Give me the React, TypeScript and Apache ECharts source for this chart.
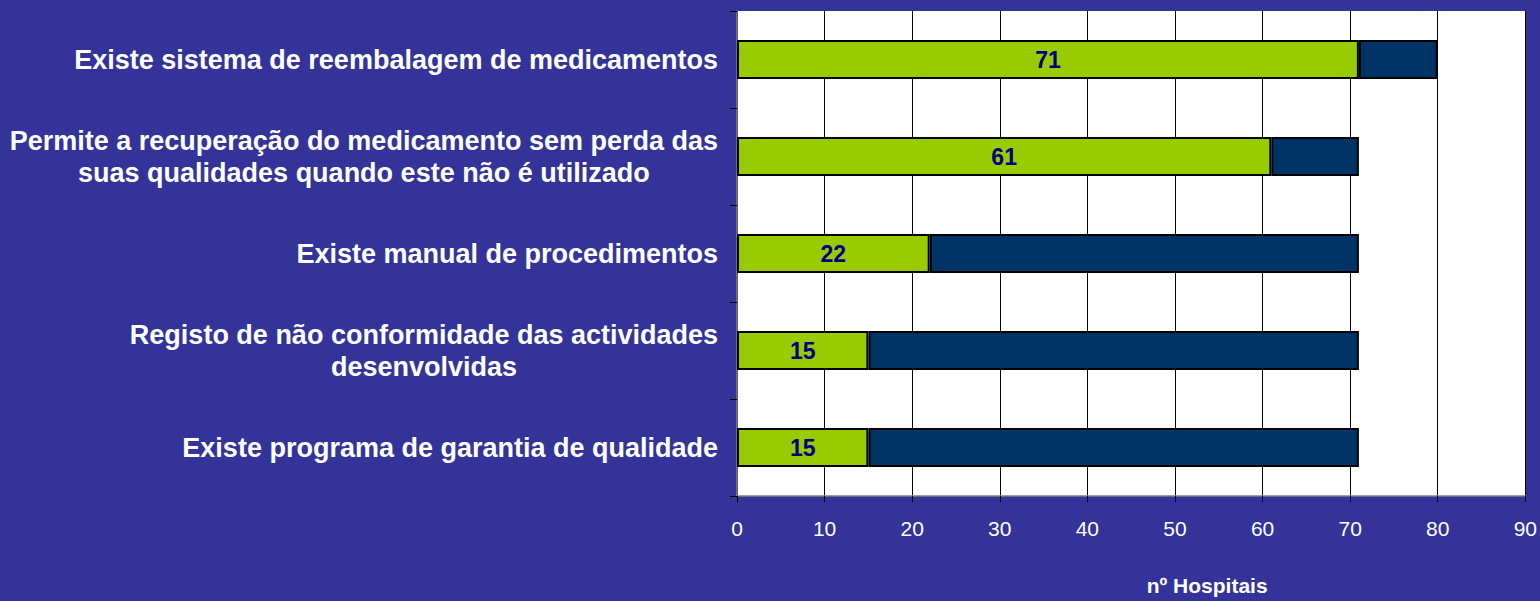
import React, { useEffect, useRef } from "react";
import * as echarts from "echarts";

const categories: string[] = [
  "Existe sistema de reembalagem de medicamentos",
  "Permite a recuperação do medicamento sem perda das\nsuas qualidades quando este não é utilizado",
  "Existe manual de procedimentos",
  "Registo de não conformidade das actividades\ndesenvolvidas",
  "Existe programa de garantia de qualidade",
];
const simValues: number[] = [71, 61, 22, 15, 15];
const naoValues: number[] = [9, 10, 49, 56, 56];
const axisTitle = "nº Hospitais";

export default function App() {
  const ref = useRef<HTMLDivElement>(null);
  useEffect(() => {
    if (!ref.current) return;
    const chart = echarts.init(ref.current, null, { renderer: "svg" });
    chart.setOption({
      animation: false,
      backgroundColor: "#333399",
      textStyle: { fontFamily: "Liberation Sans, Arial, sans-serif" },
      grid: {
        left: 737,
        right: 14,
        top: 11,
        bottom: 104,
        show: true,
        backgroundColor: "#ffffff",
        borderWidth: 0,
      },
      xAxis: {
        type: "value",
        min: 0,
        max: 90,
        interval: 10,
        name: axisTitle,
        nameLocation: "middle",
        nameGap: 79,
        nameTextStyle: {
          color: "#ffffff",
          fontWeight: "bold",
          fontSize: 21,
          padding: [0, 0, 0, 152],
        },
        axisLine: { show: true, lineStyle: { color: "#808080", width: 1.5 } },
        axisTick: { show: true, length: 6, lineStyle: { color: "#000000" } },
        axisLabel: { color: "#ffffff", fontSize: 21, margin: 22 },
        splitLine: { show: true, lineStyle: { color: "#000000", width: 1 } },
      },
      yAxis: {
        type: "category",
        data: categories,
        inverse: true,
        axisLine: { show: true, lineStyle: { color: "#808080", width: 1.5 } },
        axisTick: { show: true, length: 7, lineStyle: { color: "#000000" } },
        axisLabel: {
          margin: 19,
          formatter: (v: string) =>
            v
              .split("\n")
              .map((l) => "{c|" + l + "}")
              .join("\n"),
          rich: {
            c: {
              align: "center",
              color: "#ffffff",
              fontWeight: "bold",
              fontSize: 27,
              lineHeight: 32,
              fontFamily: "Liberation Sans, Arial, sans-serif",
            },
          },
        },
      },
      series: [
        {
          type: "bar",
          stack: "t",
          data: simValues,
          barWidth: "40%",
          itemStyle: { color: "#99CC00", borderColor: "#000000", borderWidth: 2 },
          label: {
            show: true,
            position: "inside",
            color: "#000080",
            fontWeight: "bold",
            fontSize: 23,
          },
        },
        {
          type: "bar",
          stack: "t",
          data: naoValues,
          barWidth: "40%",
          itemStyle: { color: "#003366", borderColor: "#000000", borderWidth: 2 },
        },
      ],
    });
    return () => chart.dispose();
  }, []);
  return (
    <div
      ref={ref}
      style={{ position: "absolute", left: 0, top: 0, width: 1540, height: 601 }}
    />
  );
}
